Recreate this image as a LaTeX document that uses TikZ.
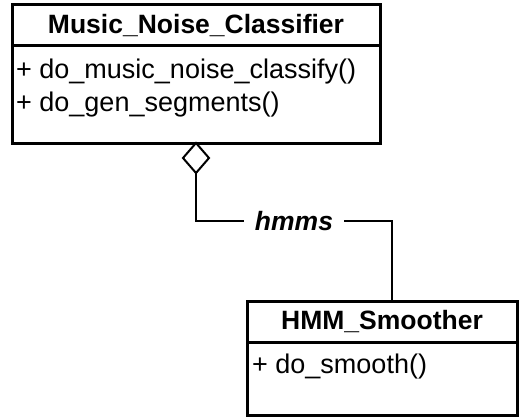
\documentclass[tikz,border=0pt]{standalone}
\usepackage{fontspec}
\setmainfont{Liberation Sans}
\usepackage{tikz}
\usetikzlibrary{positioning, shapes.geometric, calc}
\tikzset{
  clshead/.style={draw, line width=3pt, outer sep=0pt, inner sep=0pt,
    minimum width=#1, minimum height=41pt, font=\fontsize{26.5}{31}\selectfont\bfseries},
  clsbody/.style={draw, line width=3pt, outer sep=0pt, inner sep=0pt,
    minimum width=#1},
  method/.style={anchor=base west, inner sep=0pt, font=\fontsize{27}{31}\selectfont},
  aggr/.style={diamond, draw, fill=white, line width=2pt, outer sep=0pt, inner sep=0pt,
    minimum width=26pt, minimum height=30pt},
  role/.style={inner xsep=11pt, inner ysep=0pt, font=\fontsize{26.5}{31}\selectfont\bfseries\itshape},
  assoc/.style={draw, line width=2pt}
}

\begin{document}
\begin{tikzpicture}[x=1pt, y=-1pt]
\useasboundingbox (0,0) rectangle (524,417);
% classifier class
\node[clshead=368pt, anchor=north west] (mnchead) at (12,5) {Music\_Noise\_Classifier};
\node[clsbody=368pt, minimum height=97pt, anchor=north] (mncbody) at (mnchead.south) {};
\node[method] (classify) at ($(mncbody.north west)+(4,33)$) {+ do\_music\_noise\_classify()};
\node[method] (segments) at ($(classify.base west)+(0,32)$) {+ do\_gen\_segments()};
% smoother class
\node[clshead=270pt, anchor=north west] (hmmhead) at (247,301) {HMM\_Smoother};
\node[clsbody=270pt, minimum height=73pt, anchor=north] (hmmbody) at (hmmhead.south) {};
\node[method] (smooth) at ($(hmmbody.north west)+(5,31)$) {+ do\_smooth()};
% aggregation
\node[aggr, anchor=north] (agg) at (mncbody.south) {};
\node[role] (hmms) at (294,221) {hmms};
\coordinate (hmmend) at ([xshift=10pt]hmmhead.north);
\draw[assoc] (agg.south) |- (hmms.west);
\draw[assoc] (hmms.east) -| (hmmend);
\end{tikzpicture}
\end{document}
